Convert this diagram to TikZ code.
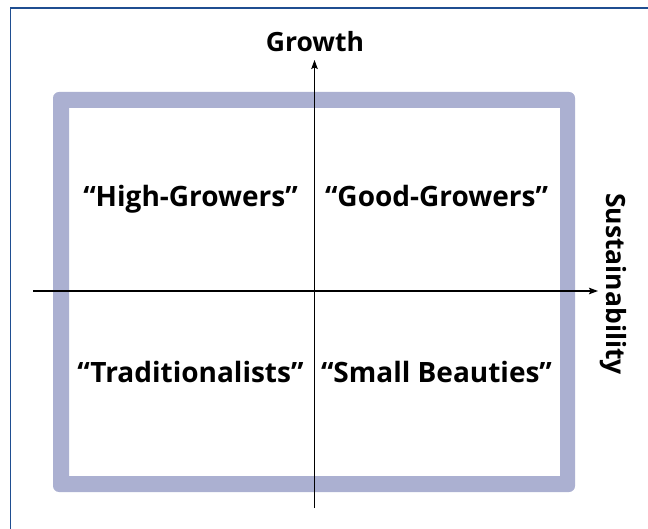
\documentclass[tikz,border=0pt]{standalone}
\usepackage{fontspec}
\setmainfont{Open Sans}
\usetikzlibrary{arrows.meta}

\definecolor{framelilac}{RGB}{171,176,209}
\definecolor{rulenavy}{RGB}{31,78,145}

\begin{document}
\begin{tikzpicture}[
  x=1pt, y=-1pt,
  rule/.style     = {rulenavy, line width=1.6pt},
  frame/.style    = {fill=framelilac, even odd rule},
  axis/.style     = {line width=1.1pt, -{Stealth[length=9pt,width=6.5pt,inset=1.5pt]}},
  quadrant/.style = {font=\fontsize{28}{32}\selectfont\bfseries, anchor=base,
                     inner sep=0pt},
  axislabel/.style= {font=\fontsize{26.5}{30}\selectfont\bfseries, inner sep=0pt},
]
  \useasboundingbox (0,0) rectangle (648,529);

  % the page rule: left and top edge only
  \draw[rule] (10.5,529) -- (10.5,8) -- (648,8);

  % the lilac frame, rounded outside, square inside
  \fill[frame] [rounded corners=6pt] (53,92) rectangle (575,492)
               [sharp corners] (69,108) rectangle (560,476);

  % axes
  \coordinate (ybot) at (314.5,508);
  \coordinate (ytop) at (314.5,60);
  \coordinate (xleft) at (33,291);
  \coordinate (xright) at (598,291);
  \draw[axis] (ybot) -- (ytop);
  \draw[axis] (xleft) -- (xright);

  \node[axislabel, anchor=base] (growth) at (315,52) {Growth};
  \node[axislabel, rotate=-90] (sustain) at (613,284) {Sustainability};

  % the four quadrants
  \node[quadrant] (high) at (190.5,207) {“High-Growers”};
  \node[quadrant] (good) at (436.5,207) {“Good-Growers”};
  \node[quadrant] (trad) at (190.5,382) {“Traditionalists”};
  \node[quadrant] (small) at (436.5,382) {“Small Beauties”};
\end{tikzpicture}
\end{document}
